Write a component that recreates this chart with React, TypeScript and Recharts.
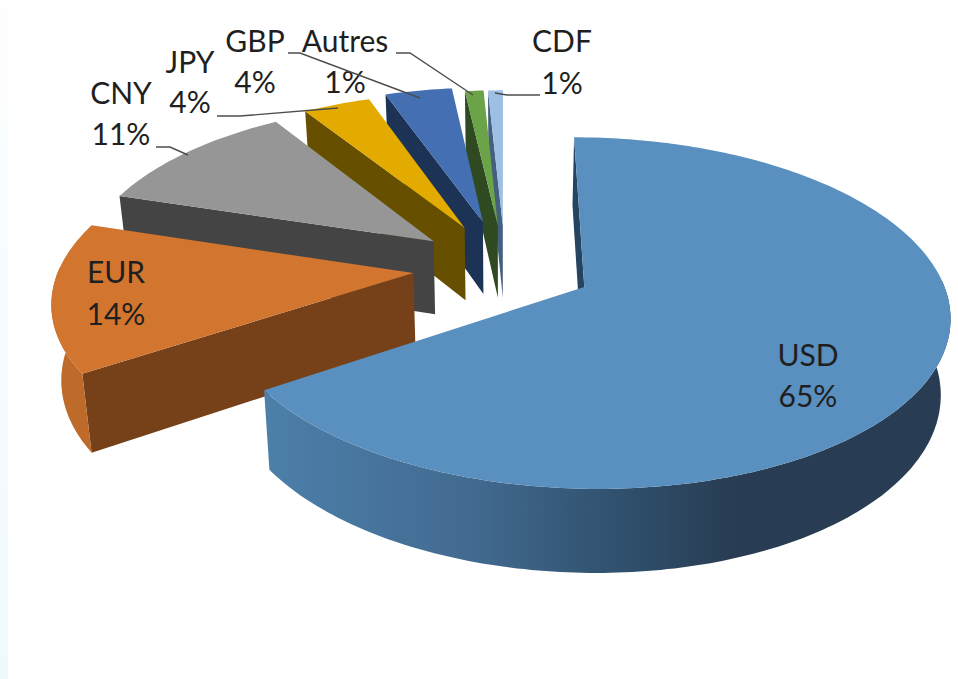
import React from "react"
import { Pie, PieChart } from "recharts"

// same order as the painter needs it: back slices first, USD last
const currencies = ["CDF", "Autres", "GBP", "JPY", "CNY", "EUR", "USD"]
const shares = [0.8, 1.0, 3.6, 3.6, 11.2, 14.1, 65.7]
const percentLabels = ["1%", "1%", "4%", "4%", "11%", "14%", "65%"]

const topColors = ["#9dbfe4", "#6ba348", "#446fb3", "#e3ab00", "#969696", "#d2752f", "#5990c0"]
const cutColors = ["#44607e", "#2f4a20", "#1c3355", "#665000", "#444444", "#764019", "#24445f"]
const rimColors = ["#6d8fb5", "#4f7a35", "#33558a", "#a98000", "#707070", "#bd6a2a", "url(#usdWall)"]
const explosions = [0.26, 0.26, 0.29, 0.27, 0.26, 0.26, 0.25]

// label text: centre x and the two baselines
const labelSpots = [
  { x: 562, y1: 52, y2: 94 },
  { x: 345, y1: 52, y2: 93 },
  { x: 255, y1: 52, y2: 93 },
  { x: 190, y1: 73, y2: 113 },
  { x: 121, y1: 104, y2: 145 },
  { x: 116, y1: 283, y2: 325 },
  { x: 808, y1: 366, y2: 407 },
]
const leaderLines = [
  "540,95 507,95 495,93",
  "396,53 410,53 473,95",
  "288,53 300,53 420,98",
  "217,116 240,116 338,108",
  "156,147 170,147 188,155",
  "",
  "",
]

const SQUASH = 0.469
const PERSPECTIVE = 0.146
const BOTTOM_SCALE = 0.978

function WedgeShape(props: any) {
  const { cx, cy, outerRadius, startAngle, endAngle, index } = props
  const rad = Math.PI / 180
  // recharts angles run counter-clockwise from 3 o'clock, this is clockwise from 12
  const from = (((90 - endAngle) % 360) + 360) % 360
  const to = from + (endAngle - startAngle)
  const mid = (from + to) / 2
  const e = explosions[index]

  const project = (theta: number, r: number) => {
    const X = e * Math.sin(mid * rad) + r * Math.sin(theta * rad)
    const Y = -e * Math.cos(mid * rad) - r * Math.cos(theta * rad)
    const w = 1 - PERSPECTIVE * Y
    return [cx + (outerRadius * X) / w, cy + (outerRadius * SQUASH * Y) / w]
  }
  const lower = (p: number[]) => [cx + (p[0] - cx) * BOTTOM_SCALE, p[1] + 74 + (p[1] - cy) * 0.045]
  const pts = (list: number[][]) => list.map((p) => `${p[0].toFixed(1)},${p[1].toFixed(1)}`).join(" ")

  const arc: number[][] = []
  for (let t = from; t < to; t += 1) arc.push(project(t, 1))
  arc.push(project(to, 1))

  const apex = project(0, 0)
  const startRim = project(from, 1)

  // outer wall only where the rim faces the viewer
  const rimFrom = Math.max(from, 88)
  const rimTo = Math.min(to, 272)
  const rim: number[][] = []
  if (rimTo > rimFrom) {
    for (let t = rimFrom; t < rimTo; t += 1) rim.push(project(t, 1))
    rim.push(project(rimTo, 1))
  }

  return (
    <g>
      <polygon points={pts([apex, startRim, lower(startRim), lower(apex)])} fill={cutColors[index]} />
      {rim.length > 0 && <polygon points={pts([...rim, ...rim.map(lower).reverse()])} fill={rimColors[index]} />}
      <polygon points={pts([apex, ...arc])} fill={topColors[index]} />
    </g>
  )
}

function renderLabel(props: any) {
  const { index } = props
  const spot = labelSpots[index]
  const common = {
    x: spot.x,
    textAnchor: "middle" as const,
    fontFamily: "Lato",
    fontSize: 30,
    fill: "#1f1f1f",
  }
  return (
    <g key={currencies[index]}>
      {leaderLines[index] && <polyline points={leaderLines[index]} fill="none" stroke="#4d4d4d" strokeWidth={1.4} />}
      <text {...common} y={spot.y1}>{currencies[index]}</text>
      <text {...common} y={spot.y2}>{percentLabels[index]}</text>
    </g>
  )
}

export default function App() {
  const data = currencies.map((name, i) => ({ name, value: shares[i] }))

  return (
    <div style={{ position: "absolute", left: 0, top: 0, width: 958, height: 679, background: "#ffffff", overflow: "hidden" }}>
      <div style={{ position: "absolute", left: 0, top: 0, width: 8, height: 679, background: "linear-gradient(#fdfeff, #eff9fe)" }} />
      <div style={{ position: "absolute", left: 0, top: 0 }}>
        <PieChart width={958} height={679}>
          <defs>
            <linearGradient id="usdWall" gradientUnits="userSpaceOnUse" x1="268" y1="0" x2="950" y2="0">
              <stop offset="0" stopColor="#4c7fa9" />
              <stop offset="0.3" stopColor="#426a90" />
              <stop offset="0.53" stopColor="#2f4f6b" />
              <stop offset="0.68" stopColor="#283d53" />
              <stop offset="1" stopColor="#283d53" />
            </linearGradient>
          </defs>
          <Pie
            data={data}
            dataKey="value"
            nameKey="name"
            cx={500}
            cy={262}
            outerRadius={354}
            startAngle={90}
            endAngle={450}
            stroke="none"
            shape={WedgeShape}
            label={renderLabel}
            labelLine={false}
            isAnimationActive={false}
          />
        </PieChart>
      </div>
    </div>
  )
}
